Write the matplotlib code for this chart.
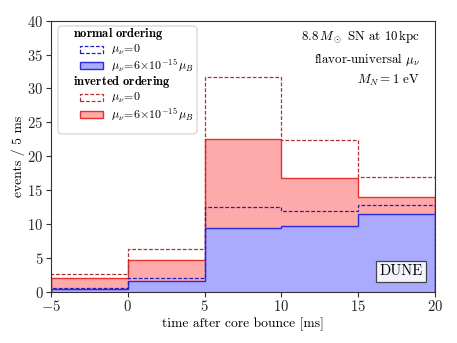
import matplotlib
matplotlib.use("Agg")
import matplotlib.pyplot as plt
from matplotlib.patches import Rectangle, FancyBboxPatch
import numpy as np

plt.rcParams["font.family"] = "serif"
plt.rcParams["font.serif"] = ["cmr10"]
plt.rcParams["mathtext.fontset"] = "cm"
plt.rcParams["axes.formatter.use_mathtext"] = True

# time bins [ms] and events / 5 ms
EDGES = [-5, 0, 5, 10, 15, 20]
NO_MU0 = [0.6, 2.0, 12.55, 11.9, 12.75]
NO_MU = [0.4, 1.55, 9.35, 9.7, 11.4]
IO_MU0 = [2.55, 6.35, 31.75, 22.4, 17.0]
IO_MU = [2.0, 4.7, 22.5, 16.75, 14.0]

BLUE_F, BLUE_E, BLUE_D = "#aaaaff", "#2a2ae0", "#2020c0"
RED_F, RED_E, RED_D = "#ffaaaa", "#e83030", "#b03030"
DASH = (0, (3, 1.5))

fig = plt.figure(figsize=(4.57, 3.43), dpi=100)
ax = fig.add_axes([0.1116, 0.1496, 0.8403, 0.7901])

ax.stairs(IO_MU, EDGES, fill=True, facecolor=RED_F, edgecolor=RED_E, linewidth=1.0)
ax.stairs(NO_MU, EDGES, fill=True, facecolor=BLUE_F, edgecolor=BLUE_E, linewidth=1.0)
ax.stairs(IO_MU0, EDGES, baseline=0, color=RED_D, linestyle=DASH, linewidth=0.9)
ax.stairs(NO_MU0, EDGES, baseline=0, color=BLUE_D, linestyle=DASH, linewidth=0.9)

ax.set_xlim(-5, 20); ax.set_ylim(0, 40)
ax.set_xticks([-5, 0, 5, 10, 15, 20]); ax.set_yticks(range(0, 41, 5))
ax.tick_params(labelsize=10.5, colors="#333333", labelcolor="#222222", pad=2)
for sp in ax.spines.values():
    sp.set_color("#333333")
ax.set_xlabel("time after core bounce [ms]", fontsize=9.8, labelpad=2)
ax.set_ylabel("events / 5 ms", fontsize=9.8, labelpad=2)

# legend, laid out by hand: group headers sit left of the handle column
lab0 = r"$\mu_\nu\!=\!0$"
lab1 = r"$\mu_\nu\!=\!6\!\times\!10^{-15}\,\mu_B$"
rows = [("hdr", r"$\mathbf{normal\ ordering}$", None),
        ("dash", lab0, BLUE_D),
        ("fill", lab1, (BLUE_F, BLUE_E)),
        ("hdr", r"$\mathbf{inverted\ ordering}$", None),
        ("dash", lab0, RED_D),
        ("fill", lab1, (RED_F, RED_E))]

px = lambda x: (x - 51) / 384          # figure pixel -> axes fraction
py = lambda y: (291.7 - y) / 271
ax.add_patch(FancyBboxPatch((px(58), py(134)), px(197) - px(58), py(26) - py(134),
                            transform=ax.transAxes, boxstyle="round,pad=0,rounding_size=0.012",
                            facecolor="white", edgecolor="#d0d0d0", linewidth=0.8, zorder=5))
row_y = [34, 50, 66, 82, 98, 115]
hw, hh = px(103) - px(80), py(0) - py(7)
for (kind, text, st), yy in zip(rows, row_y):
    yc = py(yy)
    if kind == "hdr":
        ax.text(px(73), yc, text, transform=ax.transAxes, fontsize=9, ha="left", va="center", zorder=6)
        continue
    if kind == "dash":
        r = Rectangle((px(80), yc - hh / 2), hw, hh, transform=ax.transAxes, facecolor="none",
                      edgecolor=st, linestyle=DASH, linewidth=0.9, zorder=6)
    else:
        r = Rectangle((px(80), yc - hh / 2), hw, hh, transform=ax.transAxes, facecolor=st[0],
                      edgecolor=st[1], linewidth=1.0, zorder=6)
    ax.add_patch(r)
    ax.text(px(111), yc, text, transform=ax.transAxes, fontsize=8.6, ha="left", va="center", zorder=6)

ax.text(0.961, 0.941, r"$8.8\,M_\odot$ SN at $10\,$kpc", transform=ax.transAxes,
        ha="right", va="center", fontsize=9.3)
ax.text(0.961, 0.855, r"flavor-universal $\mu_\nu$", transform=ax.transAxes,
        ha="right", va="center", fontsize=9.3)
ax.text(0.961, 0.781, r"$M_N = 1$ eV", transform=ax.transAxes,
        ha="right", va="center", fontsize=9.3)
ax.text(0.911, 0.074, "DUNE", transform=ax.transAxes, ha="center", va="center", fontsize=10.5,
        bbox=dict(boxstyle="square,pad=0.25", facecolor="#f4f4ff", edgecolor="#444444", linewidth=0.9))

fig.savefig("out.png", dpi=100)
